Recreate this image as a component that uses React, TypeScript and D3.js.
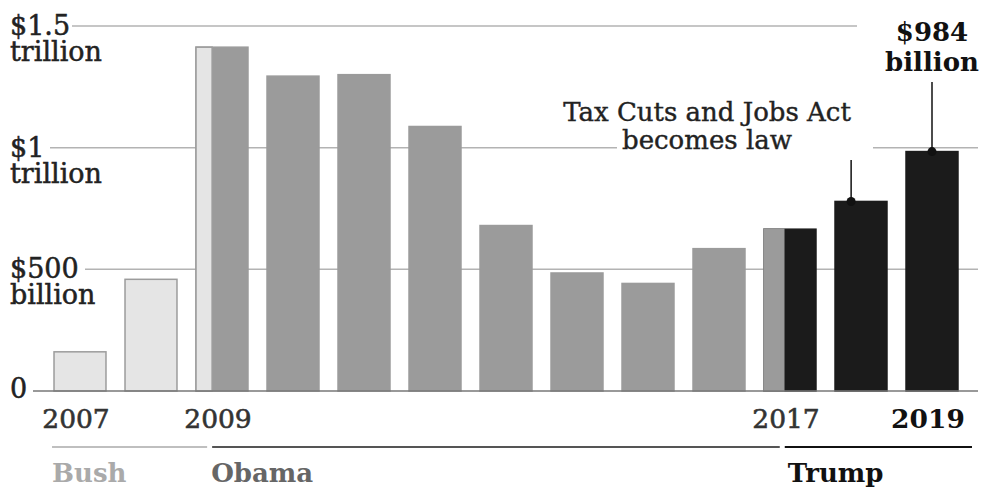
import React from "react";
import * as d3 from "d3";

const years = ["2007","2008","2009","2010","2011","2012","2013","2014","2015","2016","2017","2018","2019"];
const deficits = [161, 459, 1413, 1294, 1300, 1087, 680, 485, 442, 585, 665, 779, 984];
const presidents = ["Bush","Bush","Obama","Obama","Obama","Obama","Obama","Obama","Obama","Obama","Trump","Trump","Trump"];
// share of a fiscal year spent under the previous president
const prevPresident = [null, null, "Bush", null, null, null, null, null, null, null, "Obama", null, null];
const prevShare = [0, 0, 0.31, 0, 0, 0, 0, 0, 0, 0, 0.38, 0, 0];

const yTicks = [0, 500, 1000, 1500];
const yTickLines1 = ["0", "$500", "$1", "$1.5"];
const yTickLines2 = ["", "billion", "trillion", "trillion"];
const xLabels = ["2007", "2009", "2017", "2019"];
const xLabelBold = ["2019"];

const W = 996, H = 489;
const FONT = "'DejaVu Serif', serif";

const fills: Record<string, string> = { Bush: "#e5e5e5", Obama: "#9b9b9b", Trump: "#1b1b1b" };
const strokes: Record<string, string> = { Bush: "#9c9c9c", Obama: "#9b9b9b", Trump: "#1b1b1b" };

export default function App() {
  const x = d3.scaleBand<string>().domain(years).range([44.5, 967.5]).paddingInner(0.268).paddingOuter(0.134);
  const y = d3.scaleLinear().domain([0, 1500]).range([391, 26]);
  const bw = x.bandwidth();

  // gridline extents (layout)
  const gridStart: Record<number, number> = { 0: 33, 500: 85, 1000: 50, 1500: 72 };
  const gridEnd: Record<number, number> = { 0: 978, 500: 978, 1000: 978, 1500: 857 };

  const split2009 = (x("2009") as number) + bw * prevShare[2];
  const split2017 = (x("2017") as number) + bw * prevShare[10];
  const x2007 = x("2007") as number;
  const x2019 = x("2019") as number;

  const taxX = (x("2018") as number) + bw * 0.31;
  const x984 = x2019 + bw / 2;

  return (
    <svg width={W} height={H} style={{ position: "absolute", left: 0, top: 0, background: "#fff" }} fontFamily={FONT}>
      <rect x={0} y={0} width={W} height={H} fill="#fff" />
      {/* gridlines */}
      {yTicks.map((t) => {
        if (t === 0) return null;
        if (t === 1000) {
          return (
            <g key={t}>
              <line x1={gridStart[t]} x2={617} y1={y(t)} y2={y(t)} stroke="#b3b3b3" strokeWidth={1.5} />
              <line x1={873} x2={gridEnd[t]} y1={y(t)} y2={y(t)} stroke="#b3b3b3" strokeWidth={1.5} />
            </g>
          );
        }
        return <line key={t} x1={gridStart[t]} x2={gridEnd[t]} y1={y(t)} y2={y(t)} stroke="#b3b3b3" strokeWidth={1.5} />;
      })}
      {/* y labels */}
      {yTicks.map((t, i) => (
        <text key={"l" + t} x={10} y={y(t) + (t === 0 ? 7 : 9)} fill="#222" stroke="#222" strokeWidth={0.5} fontSize={27}>
          <tspan x={10}>{yTickLines1[i]}</tspan>
          {yTickLines2[i] && <tspan x={10} dy={26}>{yTickLines2[i]}</tspan>}
        </text>
      ))}
      {/* bars */}
      {years.map((yr, i) => {
        const bx = x(yr) as number;
        const top = y(deficits[i]);
        const h = y(0) - top;
        const p = presidents[i];
        const pp = prevPresident[i];
        const share = prevShare[i];
        return (
          <g key={yr}>
            <rect x={bx} y={top} width={bw} height={h} fill={fills[p]} stroke={strokes[p]} strokeWidth={1.5} />
            {pp && (
              <rect x={bx} y={top} width={bw * share} height={h} fill={fills[pp]} stroke={strokes[pp]} strokeWidth={1.5} />
            )}
          </g>
        );
      })}
      {/* baseline */}
      <line x1={gridStart[0]} x2={gridEnd[0]} y1={y(0)} y2={y(0)} stroke="#777" strokeWidth={1.5} />
      {/* x labels */}
      {xLabels.map((l) => {
        const b = xLabelBold.includes(l);
        return (
          <text key={l} x={(x(l) as number) + bw / 2 - 4} y={428} textAnchor="middle" fontSize={26.5}
            fontWeight={b ? "bold" : "normal"} fill={b ? "#111" : "#333"} stroke={b ? "none" : "#333"} strokeWidth={0.6}>{l}</text>
        );
      })}
      {/* president spans */}
      <line x1={x2007 - 2} x2={split2009 - 5} y1={447} y2={447} stroke="#aaa" strokeWidth={1.5} />
      <line x1={split2009} x2={split2017 - 4} y1={447} y2={447} stroke="#555" strokeWidth={1.8} />
      <line x1={split2017 + 1} x2={x2019 + bw + 14} y1={447} y2={447} stroke="#111" strokeWidth={1.8} />
      <text x={x2007 - 2} y={482} fontSize={26} fontWeight="bold" fill="#aaa">Bush</text>
      <text x={split2009 - 1} y={482} fontSize={26} fontWeight="bold" fill="#666">Obama</text>
      <text x={split2017 + 4} y={482} fontSize={26} fontWeight="bold" fill="#111">Trump</text>
      {/* annotations */}
      <text x={707} y={121} textAnchor="middle" fontSize={26} fill="#222" stroke="#222" strokeWidth={0.4}>
        <tspan x={707}>Tax Cuts and Jobs Act</tspan>
        <tspan x={707} dy={28}>becomes law</tspan>
      </text>
      <line x1={taxX} x2={taxX} y1={160} y2={y(deficits[11])} stroke="#111" strokeWidth={1.5} />
      <circle cx={taxX} cy={y(deficits[11])} r={4.5} fill="#111" />
      <text x={x984} y={41} textAnchor="middle" fontSize={26} fontWeight="bold" fill="#111">
        <tspan x={x984}>$984</tspan>
        <tspan x={x984} dy={30}>billion</tspan>
      </text>
      <line x1={x984} x2={x984} y1={82} y2={y(deficits[12])} stroke="#111" strokeWidth={1.5} />
      <circle cx={x984} cy={y(deficits[12])} r={4.5} fill="#111" />
    </svg>
  );
}
